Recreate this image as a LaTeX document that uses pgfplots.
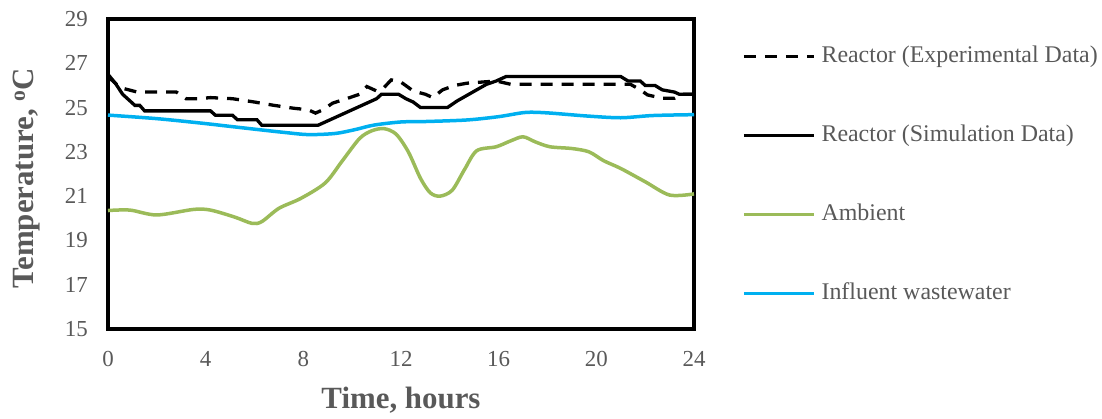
\documentclass[border=0pt]{standalone}
\usepackage{fontspec}
\setmainfont{Liberation Serif}
\usepackage{pgfplots}
\pgfplotsset{compat=1.18}
\definecolor{txtgray}{RGB}{89,89,89}
\definecolor{ambgreen}{RGB}{155,187,89}
\definecolor{inflblue}{RGB}{0,176,240}
\begin{document}
\begin{tikzpicture}
\path[use as bounding box] (0,0) rectangle (1102bp,419bp);
\begin{axis}[
  at={(108bp,90bp)}, anchor=south west,
  scale only axis, width=586bp, height=310bp,
  xmin=0, xmax=24, ymin=15, ymax=29,
  xtick={0,4,...,24}, ytick={15,17,...,29},
  major tick length=0pt,
  /pgf/number format/assume math mode=true,
  tick label style={font=\fontsize{23}{26}\selectfont, text=txtgray, inner sep=0pt},
  yticklabel style={xshift=-20bp},
  xticklabel style={yshift=-22bp},
  axis line style={line width=3.5bp},
  xlabel={Time, hours},
  ylabel={Temperature, \textsuperscript{o}C},
  label style={font=\bfseries\fontsize{31}{34}\selectfont, text=txtgray},
  xlabel style={at={(axis description cs:0.5,-0.2580)}, anchor=base},
  ylabel style={at={(axis description cs:-0.1263,0.487)}, anchor=base, rotate=0},
  legend style={at={(axis description cs:1.082,0.4960)}, anchor=west,
    draw=none, fill=none, inner sep=0pt, outer sep=0pt,
    font=\fontsize{24}{27}\selectfont, text=txtgray,
    nodes={inner sep=0pt, text height=16bp, text depth=5bp},
    row sep=58bp,
    /tikz/every odd column/.append style={column sep=6bp}},
  legend cell align=left,
  legend image code/.code={\draw[#1] (0bp,0bp) -- (70bp,0bp);},
  clip=false,
]
\addplot[black, line width=3.3bp, dash pattern=on 12bp off 9bp] coordinates {
(0,26.4)(0.5,25.9)(1.2,25.7)(2.8,25.7)(3.2,25.4)(3.7,25.4)(4.2,25.45)(5.1,25.4)(6,25.25)(6.8,25.1)(7.6,24.97)(8.2,24.9)(8.5,24.75)(8.8,24.9)(9.2,25.2)(9.9,25.45)(10.3,25.6)(10.6,25.95)(11.0,25.75)(11.3,25.9)(11.6,26.25)(12.0,26.15)(12.5,25.75)(13.0,25.6)(13.3,25.45)(13.7,25.8)(14.2,26.0)(14.7,26.1)(15.9,26.2)(16.5,26.05)(21.4,26.05)(21.8,25.8)(22.1,25.57)(22.7,25.42)(23.2,25.42)(23.5,25.6)(24,25.6)
};
\addlegendentry{Reactor (Experimental Data)}
\addplot[black, line width=3.3bp] coordinates {
(0,26.5)(0.3,26.1)(0.6,25.6)(0.9,25.3)(1.1,25.1)(1.3,25.1)(1.5,24.85)(4.2,24.85)(4.4,24.65)(5.1,24.65)(5.3,24.45)(6.1,24.45)(6.3,24.2)(8.6,24.2)(8.9,24.35)(9.2,24.5)(9.6,24.7)(10.0,24.9)(10.5,25.15)(11.0,25.4)(11.2,25.6)(11.9,25.6)(12.2,25.4)(12.5,25.25)(12.8,25.0)(13.9,25.0)(14.3,25.3)(14.7,25.55)(15.1,25.8)(15.5,26.05)(15.9,26.2)(16.3,26.4)(21.0,26.4)(21.3,26.2)(21.8,26.2)(22.0,26.0)(22.4,26.0)(22.7,25.8)(23.2,25.7)(23.4,25.6)(24,25.6)
};
\addlegendentry{Reactor (Simulation Data)}
\addplot[ambgreen, line width=3.5bp, smooth, tension=0.5] coordinates {
(0,20.35)(0.9,20.37)(2.0,20.15)(3.5,20.4)(4.2,20.37)(5.2,20.05)(5.9,19.77)(6.3,19.85)(7.0,20.45)(7.9,20.9)(8.9,21.6)(9.6,22.6)(10.3,23.6)(10.8,23.95)(11.3,24.05)(11.8,23.8)(12.3,23.0)(12.8,21.8)(13.2,21.15)(13.6,21.0)(14.1,21.27)(14.6,22.2)(15.1,23.05)(15.9,23.23)(16.5,23.5)(17.0,23.68)(17.5,23.45)(18.1,23.23)(19.0,23.15)(19.7,23.0)(20.3,22.6)(21.0,22.25)(22.0,21.65)(23.0,21.05)(24,21.1)
};
\addlegendentry{Ambient}
\addplot[inflblue, line width=3.5bp, smooth, tension=0.5] coordinates {
(0,24.66)(2,24.5)(3.8,24.3)(5,24.15)(6.2,24.0)(7.2,23.88)(8.2,23.78)(9.3,23.83)(10.1,24.0)(10.9,24.21)(12,24.35)(13,24.37)(14.7,24.44)(16,24.59)(17.1,24.78)(18,24.76)(19.6,24.62)(21,24.54)(22.3,24.64)(24,24.68)
};
\addlegendentry{Influent wastewater}
\end{axis}
\end{tikzpicture}
\end{document}
